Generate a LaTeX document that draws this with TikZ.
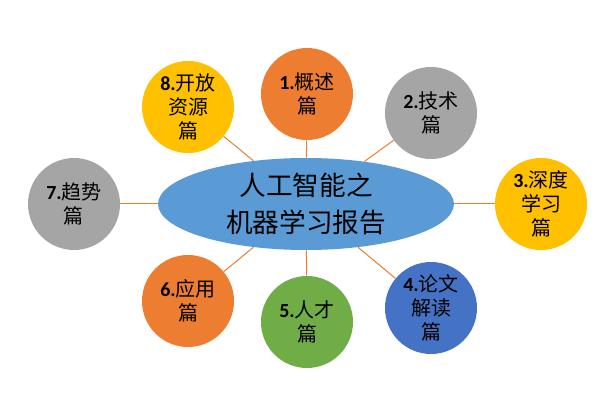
\documentclass[tikz,border=0pt]{standalone}
\usepackage{fontspec}
\setmainfont{Carlito}
\newfontfamily\cjk{Noto Sans CJK SC}
\newfontfamily\lat{Carlito}
\definecolor{cOrange}{HTML}{ED7D31}
\definecolor{cGray}{HTML}{A5A5A5}
\definecolor{cYellow}{HTML}{FFC000}
\definecolor{cBlue}{HTML}{4472C4}
\definecolor{cGreen}{HTML}{70AD47}
\definecolor{cMain}{HTML}{5B9BD5}
\newcommand{\numlab}[1]{{\lat\bfseries #1}}
\begin{document}
\begin{tikzpicture}[x=0.75pt,y=-0.75pt,
  topic/.style={circle,minimum size=69pt,inner sep=0pt,align=center,
    font=\fontsize{15}{18}\selectfont\cjk},
  hub/.style={ellipse,fill=cMain,minimum width=222pt,minimum height=69pt,
    inner sep=0pt,align=center,font=\fontsize{20}{27.5}\selectfont\cjk},
  link/.style={draw=cOrange,line width=0.75pt}]
\usetikzlibrary{shapes.geometric}
\fill[white] (0,0) rectangle (615,410);
\node[hub] (main) at (306,204) {人工智能之\\机器学习报告};
\node[topic,fill=cOrange] (t1) at (307,94) {\numlab{1.}概述\\篇};
\node[topic,fill=cGray] (t2) at (431,113) {\numlab{2.}技术\\篇};
\node[topic,fill=cYellow] (t3) at (541,204) {\numlab{3.}深度\\学习\\篇};
\node[topic,fill=cBlue] (t4) at (431,308) {\numlab{4.}论文\\解读\\篇};
\node[topic,fill=cGreen] (t5) at (307,322) {\numlab{5.}人才\\篇};
\node[topic,fill=cOrange] (t6) at (188,301) {\numlab{6.}应用\\篇};
\node[topic,fill=cGray] (t7) at (74,204) {\numlab{7.}趋势\\篇};
\node[topic,fill=cYellow] (t8) at (188,107) {\numlab{8.}开放\\资源\\篇};
\foreach \t in {t1,t2,t3,t4,t5,t6,t7,t8}
  \draw[link] (main) -- (\t);
\end{tikzpicture}
\end{document}
